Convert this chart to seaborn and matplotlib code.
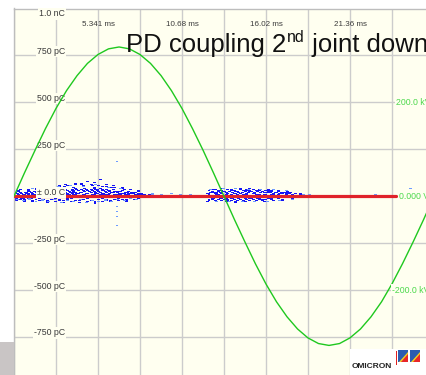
import matplotlib
matplotlib.use("Agg")
import matplotlib.pyplot as plt
import numpy as np
import pandas as pd
import seaborn as sns
from matplotlib.patches import Rectangle, Polygon
from matplotlib.path import Path

# ---------------------------------------------------------------- data
# phase axis (ms), grid every 2.6705 ms, labelled every second line
time_ticks = [5.341, 10.682, 16.023, 21.364]
time_labels = ["5.341 ms", "10.68 ms", "16.02 ms", "21.36 ms"]

charge_ticks = [1000, 750, 500, 250, 0, -250, -500, -750]
charge_labels = ["1.0 nC", "750 pC", "500 pC", "250 pC", "\u00b1 0.0 C",
                 "-250 pC", "-500 pC", "-750 pC"]

volt_ticks = [200, 0, -200]
volt_labels = ["200.0 kV", "0.000 V", "-200.0 kV"]

# test voltage (kV) sampled over one cycle
volt_phase = [0.00, 0.67, 1.34, 2.00, 2.67, 3.34, 4.01, 4.67, 5.34, 6.01,
              6.68, 7.34, 8.01, 8.68, 9.35, 10.01, 10.68, 11.35, 12.02, 12.68,
              13.35, 14.02, 14.69, 15.35, 16.02, 16.69, 17.36, 18.03, 18.69, 19.36,
              20.03, 20.70, 21.36, 22.03, 22.70, 23.37, 24.03, 24.70, 25.37, 26.04,
              26.71]
volt_kv = [0, 50, 98, 144, 187, 225, 257, 283, 302, 314,
           318, 314, 302, 283, 257, 225, 187, 144, 98, 50,
           0, -50, -98, -144, -187, -225, -257, -283, -302, -314,
           -318, -314, -302, -283, -257, -225, -187, -144, -98, -50,
           0]

# noise floor trace
floor_phase = [0.0, 24.3]
floor_charge = [0, 0]

# PD pulses, frequent (dark) : phase column -> charges (pC)
dark_phase = [0.1, 0.3, 0.5, 0.7, 0.9, 1.1, 1.3, 1.5, 1.7, 1.9,
              2.1, 2.3, 2.5, 2.7, 2.9, 3.1, 3.3, 3.5, 3.7, 3.9,
              4.1, 4.3, 4.5, 4.7, 4.9, 5.1, 5.3, 5.5, 5.7, 5.9,
              6.1, 6.3, 6.55, 6.7, 6.9, 7.1, 7.3, 7.5, 7.7, 7.9,
              8.1, 8.3, 8.6, 9.0,
              12.4, 12.6, 12.8, 13.0, 13.2, 13.4, 13.6, 13.8, 14.0, 14.2,
              14.4, 14.6, 14.8, 15.0, 15.2, 15.4, 15.6, 15.8, 16.0, 16.2,
              16.4, 16.6, 16.8, 17.0, 17.2, 17.4, 17.6, 17.9, 18.2]
dark_charge = [[20, 5, -8], [25, 10, -5, 30], [15, 2, -12], [22, 8, -6], [28, 12, 0],
               [18, 4, -10], [24, 9, -4], [30, 14, 2], [20, 6, -8], [26, 11, -3],
               [33, 16, 4], [22, 7, -9, 45], [28, 13, -2], [35, 18, 5], [24, 9, -6, 55],
               [30, 15, 0], [38, 20, 6, 60], [27, 11, -4], [33, 17, 3], [40, 22, 8, 70],
               [29, 13, -2], [35, 19, 4, 65], [42, 24, 9], [31, 14, -1, 80], [37, 20, 5],
               [44, 26, 10, 75], [33, 16, 1], [39, 22, 7, 90], [30, 15, 2], [36, 19, 6, 60],
               [28, 13, -3], [34, 18, 4, 55], [25, 10],
               [26, 12, 0], [30, 16, 3, 48], [22, 9, -4], [27, 12, 2], [18, 6, -5],
               [22, 10, 0], [15, 5], [12, 3], [10], [8], [6],
               [30, 12, -20], [25, 5, -15], [35, 15, -22], [28, 8, -18], [32, 14, -24],
               [26, 6, -16], [34, 16, -20], [29, 10, -25], [31, 13, -18], [27, 7, -22],
               [36, 15, -19], [30, 9, -23], [33, 12, -17], [28, 6, -21], [34, 14, -18],
               [29, 8, -24], [31, 11, -16], [26, 5, -20], [30, 10, -18], [25, 6],
               [28, 9, -15], [22, 4], [24, 7, -12], [20, 3], [22, 5],
               [18], [20], [15], [12]]

# second pass of frequent pulses, between the columns above
dark2_phase = [0.2, 0.4, 0.6, 0.8, 1.0, 1.2, 1.4, 1.6, 1.8, 2.0,
               2.2, 2.4, 2.6, 2.8, 3.0, 3.2, 3.4, 3.6, 3.8, 4.0,
               4.2, 4.4, 4.6, 4.8, 5.0, 5.2, 5.4, 5.6, 5.8, 6.0,
               6.2, 6.4, 6.6, 6.8, 7.0, 7.2, 7.4, 7.6, 7.8, 8.0,
               12.5, 12.7, 12.9, 13.1, 13.3, 13.5, 13.7, 13.9, 14.1, 14.3,
               14.5, 14.7, 14.9, 15.1, 15.3, 15.5, 15.7, 15.9, 16.1, 16.3,
               16.5, 16.7, 16.9, 17.1, 17.3, 17.5]
dark2_charge = [[14, -2], [19, 3], [9, -10], [17, 1], [23, 6], [12, -6], [20, 2, 35],
                [25, 8], [13, -4], [21, 3, 40],
                [27, 9], [16, -1], [22, 5, 42], [29, 11], [18, 1], [25, 7, 50], [32, 12],
                [20, 2], [28, 9, 48], [34, 14],
                [22, 3], [30, 10, 52], [36, 15], [24, 4], [31, 11, 58], [38, 17], [26, 5],
                [33, 12, 50], [24, 7], [30, 10],
                [21, 4, 45], [27, 9], [19, 3], [23, 7], [16, 2, 35], [20, 5], [13, 1],
                [17, 4], [11, 2], [9],
                [20, -8], [18, -10], [22, -5], [19, -12], [24, -7], [21, -10], [23, -6],
                [20, -11], [25, -8], [19, -13],
                [22, -6], [24, -10], [20, -8], [23, -12], [21, -7], [25, -10], [19, -6],
                [22, -9], [18, -7], [20, -5],
                [16, -8], [18], [14, -4], [15], [12], [14]]

# third pass: lower half of the band and outer edge of the clouds
dark3_phase = [0.15, 0.4, 0.65, 0.9, 1.15, 1.4, 1.65, 1.9, 2.15, 2.4,
               2.65, 2.9, 3.15, 3.4, 3.65, 3.9, 4.15, 4.4, 4.65, 4.9,
               5.15, 5.4, 5.65, 5.9, 6.15, 6.4, 6.65, 6.9, 7.15, 7.4,
               7.65, 7.9,
               12.3, 12.6, 12.9, 13.2, 13.5, 13.8, 14.1, 14.4, 14.7, 15.0,
               15.3, 15.6, 15.9, 16.2, 16.5, 16.8, 17.1, 17.4, 17.7]
dark3_charge = [[-15, -24], [-18, 38], [-20, -28], [-14, 33], [-22, -30], [-17, 41],
                [-25, -12], [-19, 45], [-23, -31], [-16, 47], [-26, -13], [-20, 52],
                [-24, -33], [-15, 56], [-28, -11], [-21, 60], [-25, -34], [-18, 57],
                [-29, -14], [-22, 63], [-26, -36], [-17, 58], [-27, -12], [-20, 50],
                [-23, -30], [-16, 46], [-24, -10], [-18, 40], [-20, -26], [-13, 34],
                [-17, -8], [-12, 28],
                [15, -28], [38, -10], [12, -30], [40, -14], [10, -29], [37, -12],
                [14, -31], [41, -9], [11, -27], [39, -13], [13, -30], [36, -11],
                [9, -26], [33, -14], [8, -24], [30, -10], [6, -20], [25], [8, -12]]

# PD pulses, rare (light)
light_phase = [0.2, 0.6, 1.0, 1.4, 1.8, 2.2, 2.6, 3.0, 3.4, 3.8,
               4.2, 4.6, 5.0, 5.4, 5.8, 6.2, 6.6, 7.0, 7.4, 7.8,
               1.2, 2.0, 2.8, 3.6, 4.4, 5.2, 6.0, 6.8,
               6.55, 6.55, 6.55, 6.55, 6.55,
               8.8, 9.4, 10.0, 10.6, 11.2, 11.8,
               12.5, 12.9, 13.3, 13.7, 14.1, 14.5, 14.9, 15.3, 15.7, 16.1,
               16.5, 16.9, 17.3, 17.7, 18.4, 18.8,
               19.5, 20.4, 21.2, 22.0, 23.0, 24.0, 25.2]
light_charge = [-18, -25, -15, -30, -20, -28, -16, -32, -22, -27,
                -18, -35, -24, -30, -20, -26, -17, -22, -14, -18,
                40, 48, 52, 58, 50, 62, 45, 40,
                186, -53, -80, -106, -154,
                12, 10, 14, 8, 11, -4,
                38, -28, 40, -30, 42, -28, 38, -30, 36, -26,
                34, -22, 30, -18, 10, 8,
                4, 6, -3, 5, 7, 4, 40]

# ---------------------------------------------------------------- frame
W, H = 426, 375
PX_MS = 5.341 / 84.0          # ms per pixel along the phase axis

sns.set_style("white")
plt.rcParams["font.family"] = ["Liberation Sans", "DejaVu Sans"]

fig = plt.figure(figsize=(W / 100, H / 100), dpi=100, facecolor="white")
ax = fig.add_axes([14 / W, (H - 383.9) / H, 420 / W, 375.4 / H])
ax.set_facecolor("#FFFFF0")
ax.set_xlim(0, 26.705)
ax.set_ylim(-1000, 1000)
ax.set_xticks([i * 2.6705 for i in range(11)])
ax.set_yticks(range(-1000, 1001, 250))
ax.tick_params(length=0, labelleft=False, labelbottom=False)
ax.grid(True, color="#CCCCCC", lw=1.0)
ax.set_axisbelow(True)
for s in ax.spines.values():
    s.set_color("#BDBDBD")
    s.set_linewidth(1.0)

# ---------------------------------------------------------------- pulses
rows = []
for phases, charges in ((dark_phase, dark_charge), (dark2_phase, dark2_charge),
                        (dark3_phase, dark3_charge)):
    for ph, qs in zip(phases, charges):
        for q in qs:
            rows.append((ph, q, "frequent"))
for ph, q in zip(light_phase, light_charge):
    rows.append((ph, q, "rare"))
pulses = pd.DataFrame(rows, columns=["phase", "charge", "rate"])

dash = Path([(-1, -0.38), (1, -0.38), (1, 0.38), (-1, 0.38), (-1, -0.38)],
            [Path.MOVETO, Path.LINETO, Path.LINETO, Path.LINETO, Path.CLOSEPOLY])
sns.scatterplot(data=pulses, x="phase", y="charge", hue="rate",
                palette={"frequent": "#1414F5", "rare": "#6E9BFF"},
                marker=dash, s=4.5, linewidth=0, legend=False, ax=ax, zorder=2)

floor = pd.DataFrame({"phase": floor_phase, "charge": floor_charge})
sns.lineplot(data=floor, x="phase", y="charge", color="#E0222A", lw=2.3,
             ax=ax, zorder=3)
ax.set_xlabel("")
ax.set_ylabel("")

# charge scale labels inside the plot
lab_box = dict(boxstyle="square,pad=0.12", fc="#FFFFF0", ec="none")
for v, t in zip(charge_ticks, charge_labels):
    dy = -5.5 if v == 1000 else 4
    ax.annotate(t, xy=(3.24, v), xytext=(0, dy), textcoords="offset pixels",
                ha="right", va="center", fontsize=6.3, color="#3A3A3A",
                bbox=lab_box, zorder=5)
for v, t in zip(time_ticks, time_labels):
    ax.annotate(t, xy=(v, 1000), xytext=(0, -15.5), textcoords="offset pixels",
                ha="center", va="center", fontsize=5.8, color="#3A3A3A", zorder=5)

# ---------------------------------------------------------------- voltage
ax2 = ax.twinx()
ax2.set_ylim(-400, 400)
ax2.set_xlim(0, 26.705)
ax2.axis("off")
volt = pd.DataFrame({"phase": volt_phase, "kv": volt_kv})
sns.lineplot(data=volt, x="phase", y="kv", color="#1FC81F", lw=1.0, ax=ax2)
for v, t, xp in zip(volt_ticks, volt_labels, [396, 399, 392]):
    ax2.text((xp - 14) * PX_MS, v, t, ha="left", va="center", fontsize=6.3,
             color="#4CD94C", bbox=lab_box, zorder=5)

# ---------------------------------------------------------------- title
t1 = fig.text(126 / W, (H - 52) / H, "PD coupling 2", fontsize=18.5,
              color="#111111", va="baseline", ha="left")
t2 = plt.annotate("nd", xy=(1, 0.52), xycoords=t1, xytext=(1, 0),
                  textcoords="offset pixels", fontsize=11.5, color="#111111",
                  ha="left", va="bottom", annotation_clip=False)
plt.annotate(" joint downstream", xy=(1, 0), xycoords=(t2, t1), fontsize=18.5,
             color="#111111", ha="left", va="bottom", annotation_clip=False)

# ---------------------------------------------------------------- decorations
fig.patches.append(Rectangle((0, 0), 14 / W, 33 / H, transform=fig.transFigure,
                             fc="#C9C5C5", ec="none", zorder=10))
fig.patches.append(Rectangle((350 / W, 0), 76 / W, 26 / H, transform=fig.transFigure,
                             fc="white", ec="none", zorder=10))
fig.text(352 / W, 7 / H, "OMICRON", fontsize=6, fontweight="bold",
         color="#222222", ha="left", va="baseline", zorder=11)
fig.patches.append(Rectangle((396 / W, 10 / H), 1 / W, 14 / H,
                             transform=fig.transFigure, fc="#E02020", ec="none", zorder=11))
for x0 in (398, 410):
    fig.patches.append(Polygon([(x0 / W, 13 / H), ((x0 + 10) / W, 13 / H),
                                ((x0 + 10) / W, 25 / H), (x0 / W, 25 / H)],
                               transform=fig.transFigure, fc="#2A5CB0", ec="none", zorder=11))
    fig.patches.append(Polygon([((x0 + 10) / W, 13 / H), ((x0 + 10) / W, 22 / H),
                                ((x0 + 2) / W, 13 / H)],
                               transform=fig.transFigure, fc="#E8262A", ec="none", zorder=12))
    fig.patches.append(Polygon([((x0 + 1) / W, 13 / H), ((x0 + 3) / W, 13 / H),
                                ((x0 + 10) / W, 21 / H), ((x0 + 10) / W, 23 / H)],
                               transform=fig.transFigure, fc="#F2D21E", ec="none", zorder=12))

fig.savefig("out.png", dpi=100, facecolor="white")
